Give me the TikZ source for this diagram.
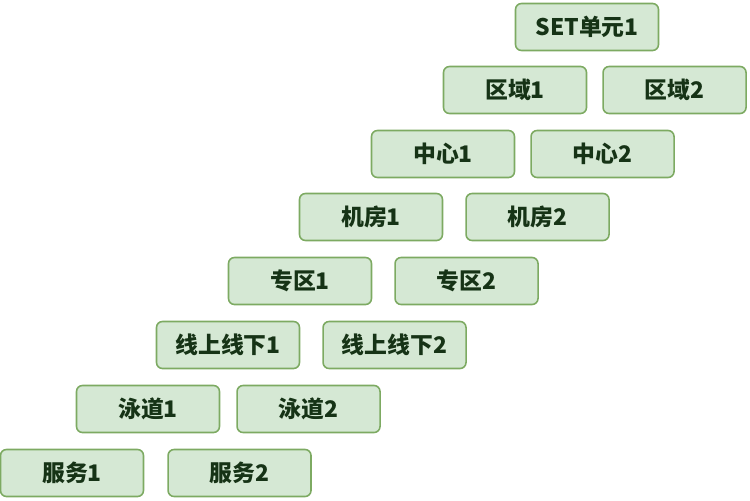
\documentclass[tikz,border=0pt]{standalone}
\usepackage{fontspec}
\usepackage{tikz}
\usetikzlibrary{positioning}
\newfontfamily\cjk{Noto Sans CJK SC}
\definecolor{boxfill}{HTML}{D5E8D4}
\definecolor{boxline}{HTML}{7DAA62}
\definecolor{boxtext}{HTML}{163316}
\tikzset{
  unit/.style = {rectangle, rounded corners=0.12cm, draw=boxline, fill=boxfill,
    line width=0.9pt, minimum width=2.86cm, minimum height=0.94cm,
    inner sep=0pt, text=boxtext, font=\cjk\bfseries\fontsize{13}{15}\selectfont},% cellule
}

\begin{document}
\begin{tikzpicture}[x=0.02cm,y=-0.02cm]
\useasboundingbox (0,0) rectangle (750,500);
% colonne de gauche
\node [unit] (set)   at (587,27)  {SET单元1};
\node [unit] (zone1) at (515,90)  {区域1};
\node [unit] (idc1)  at (443,154) {中心1};
\node [unit] (room1) at (371,217) {机房1};
\node [unit] (area1) at (300,281) {专区1};
\node [unit] (line1) at (228,345) {线上线下1};
\node [unit] (lane1) at (148,409) {泳道1};
\node [unit] (svc1)  at (72,473)  {服务1};
% colonne de droite
\node [unit, right=0.3cm of zone1]  (zone2) {区域2};
\node [unit, right=0.3cm of idc1]   (idc2)  {中心2};
\node [unit, right=0.44cm of room1] (room2) {机房2};
\node [unit, right=0.44cm of area1] (area2) {专区2};
\node [unit, right=0.44cm of line1] (line2) {线上线下2};
\node [unit, right=0.32cm of lane1] (lane2) {泳道2};
\node [unit, right=0.46cm of svc1]  (svc2)  {服务2};
\end{tikzpicture}
\end{document}
